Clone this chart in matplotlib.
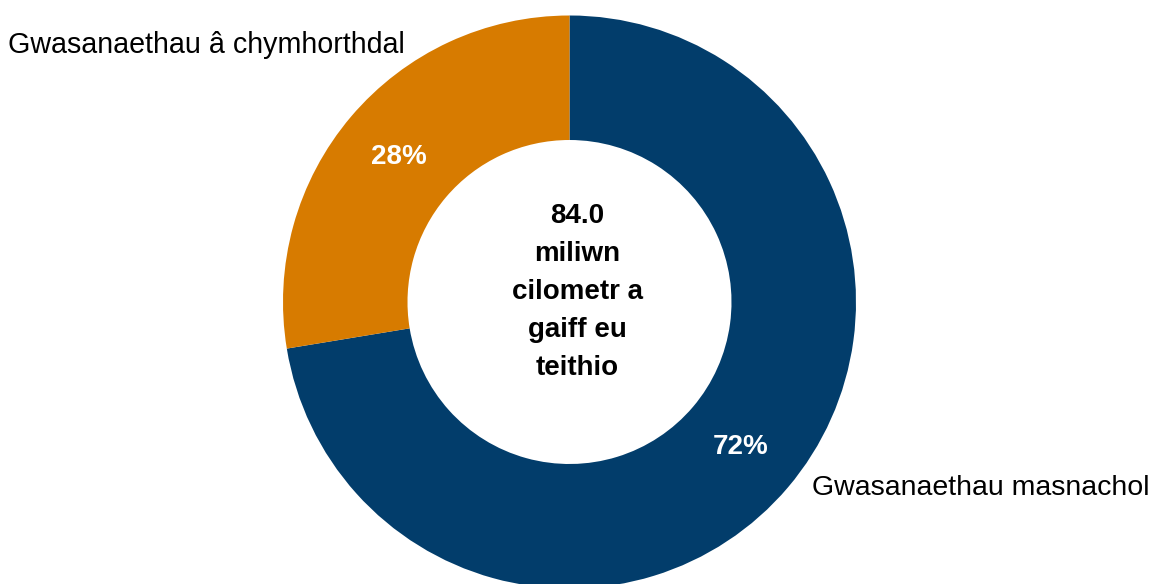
import matplotlib
matplotlib.use("Agg")
import matplotlib.pyplot as plt

categories = ["Gwasanaethau masnachol", "Gwasanaethau â chymhorthdal"]
values = [72.4, 27.6]
colors = ["#023D6B", "#D77B00"]
center_text = "84.0\nmiliwn\ncilometr a\ngaiff eu\nteithio"

plt.rcParams['font.family'] = ['Liberation Sans', 'DejaVu Sans']

W, H = 1152, 584
fig = plt.figure(figsize=(W / 100, H / 100), dpi=100)
ax = fig.add_axes([0, 0, 1, 1])
R = 286.5
cx, cy = 569.5, H - 302.0
wedges, texts, autotexts = ax.pie(
    values, colors=colors, startangle=90, counterclock=False, radius=1,
    wedgeprops=dict(width=1 - 162 / R, linewidth=0),
    autopct=lambda p: f"{p:.0f}%", pctdistance=0.783,
    textprops=dict(color="white", fontsize=20, fontweight="bold"))
ax.set_xlim(-cx / R, (W - cx) / R)
ax.set_ylim(-cy / R, (H - cy) / R)
ax.set_aspect('auto')
ax.axis('off')

ax.text(8 / R, 10 / R, center_text, ha='center', va='center', fontsize=20,
        fontweight='bold', color='black', linespacing=1.6)

fig.text(8 / W, (H - 45) / H, categories[1], ha='left', va='center', fontsize=20.6, color='black')
fig.text(812 / W, (H - 488) / H, categories[0], ha='left', va='center', fontsize=20.5, color='black')

fig.savefig("out.png", dpi=100)
